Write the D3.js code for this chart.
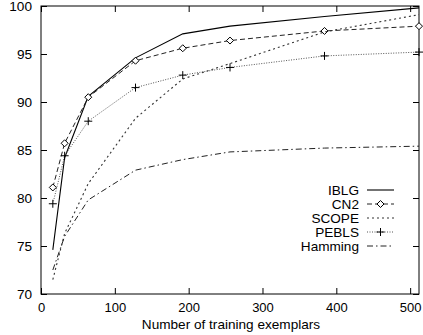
<!DOCTYPE html>
<html>
<head>
<meta charset="utf-8">
<script src="https://cdn.jsdelivr.net/npm/d3@7"></script>
<style>
  body { margin: 0; background: #fff; }
  svg { display: block; font-family: "Liberation Sans", Arial, sans-serif; }
</style>
</head>
<body>
<svg id="chart" width="423" height="335"></svg>
<script>
// training set sizes (x axis)
const exemplars = [16, 32, 64, 128, 192, 256, 384, 512];
// accuracy of each method
const iblg    = [74.6, 84.2, 90.6, 94.6, 97.1, 97.9, 98.9, 99.8];
const cn2     = [81.1, 85.7, 90.5, 94.3, 95.6, 96.4, 97.4, 97.9];
const scope   = [71.5, 76.3, 81.5, 88.3, 92.4, 94.0, 97.3, 99.1];
const pebls   = [79.4, 84.4, 88.0, 91.5, 92.8, 93.6, 94.8, 95.2];
const hamming = [72.5, 76.0, 79.8, 82.9, 84.0, 84.8, 85.2, 85.4];
const seriesNames = ["IBLG", "CN2", "SCOPE", "PEBLS", "Hamming"];
const xTicks = [0, 100, 200, 300, 400, 500];
const yTicks = [70, 75, 80, 85, 90, 95, 100];

const svg = d3.select("#chart");
const area = { left: 41, right: 419, top: 6, bottom: 294 };
const fs = "13.6px";

const x = d3.scaleLinear().domain([0, 512]).range([area.left, area.right]);
const y = d3.scaleLinear().domain([70, 100]).range([area.bottom, area.top]);

// frame
svg.append("rect")
  .attr("x", area.left).attr("y", area.top)
  .attr("width", area.right - area.left).attr("height", area.bottom - area.top)
  .attr("fill", "none").attr("stroke", "#000").attr("stroke-width", 1);

// axes with inward ticks, mirrored on top/right
const tick = 6;
const gx = svg.append("g").attr("transform", `translate(0,${area.bottom})`)
  .call(d3.axisBottom(x).tickValues(xTicks).tickSizeInner(-tick).tickSizeOuter(0).tickPadding(9));
const gxt = svg.append("g").attr("transform", `translate(0,${area.top})`)
  .call(d3.axisTop(x).tickValues(xTicks).tickSizeInner(-tick).tickSizeOuter(0).tickFormat(""));
const gy = svg.append("g").attr("transform", `translate(${area.left},0)`)
  .call(d3.axisLeft(y).tickValues(yTicks).tickSizeInner(-tick).tickSizeOuter(0).tickPadding(9));
const gyr = svg.append("g").attr("transform", `translate(${area.right},0)`)
  .call(d3.axisRight(y).tickValues(yTicks).tickSizeInner(-tick).tickSizeOuter(0).tickFormat(""));
[gx, gxt, gy, gyr].forEach(g => {
  g.select(".domain").remove();
  g.selectAll("line").attr("stroke", "#000");
  g.selectAll("text").attr("fill", "#000").style("font-size", fs)
    .style("font-family", '"Liberation Sans", Arial, sans-serif');
});
gx.selectAll("text").style("font-size", "13px");

svg.append("text")
  .attr("x", 231).attr("y", 328.5)
  .attr("text-anchor", "middle").style("font-size", fs)
  .text("Number of training exemplars");

const styles = {
  IBLG:    { data: iblg,    dash: null,      color: "#000", width: 1.1 },
  CN2:     { data: cn2,     dash: "5,3",     color: "#222", width: 1 },
  SCOPE:   { data: scope,   dash: "2,3",     color: "#333", width: 1.1 },
  PEBLS:   { data: pebls,   dash: "1,1.5",   color: "#555", width: 1 },
  Hamming: { data: hamming, dash: "6,3,1.5,3", color: "#222", width: 1 }
};

const line = d3.line().x(d => x(d[0])).y(d => y(d[1]));
const plot = svg.append("g");

function marker(g, name, cx, cy) {
  if (name === "CN2") {
    const r = 3.5;
    g.append("path")
      .attr("d", `M${cx},${cy - r}L${cx + r},${cy}L${cx},${cy + r}L${cx - r},${cy}Z`)
      .attr("fill", "#fff").attr("stroke", "#000").attr("stroke-width", 1);
  } else if (name === "PEBLS") {
    const r = 4;
    g.append("path")
      .attr("d", `M${cx - r},${cy}H${cx + r}M${cx},${cy - r}V${cy + r}`)
      .attr("stroke", "#000").attr("stroke-width", 1);
  }
}

seriesNames.forEach(name => {
  const s = styles[name];
  const pts = exemplars.map((e, i) => [e, s.data[i]]);
  plot.append("path")
    .datum(pts)
    .attr("d", line)
    .attr("fill", "none")
    .attr("stroke", s.color)
    .attr("stroke-width", s.width)
    .attr("stroke-dasharray", s.dash);
  pts.forEach(p => marker(plot, name, x(p[0]), y(p[1])));
});

// legend
const legend = svg.append("g");
seriesNames.forEach((name, i) => {
  const s = styles[name];
  const ly = 190 + i * 14;
  legend.append("text")
    .attr("x", 359).attr("y", ly).attr("dy", "0.35em")
    .attr("text-anchor", "end").style("font-size", fs)
    .text(name);
  legend.append("line")
    .attr("x1", 367).attr("x2", 394).attr("y1", ly).attr("y2", ly)
    .attr("stroke", s.color).attr("stroke-width", s.width)
    .attr("stroke-dasharray", s.dash);
  marker(legend, name, 380.5, ly);
});
</script>
</body>
</html>
